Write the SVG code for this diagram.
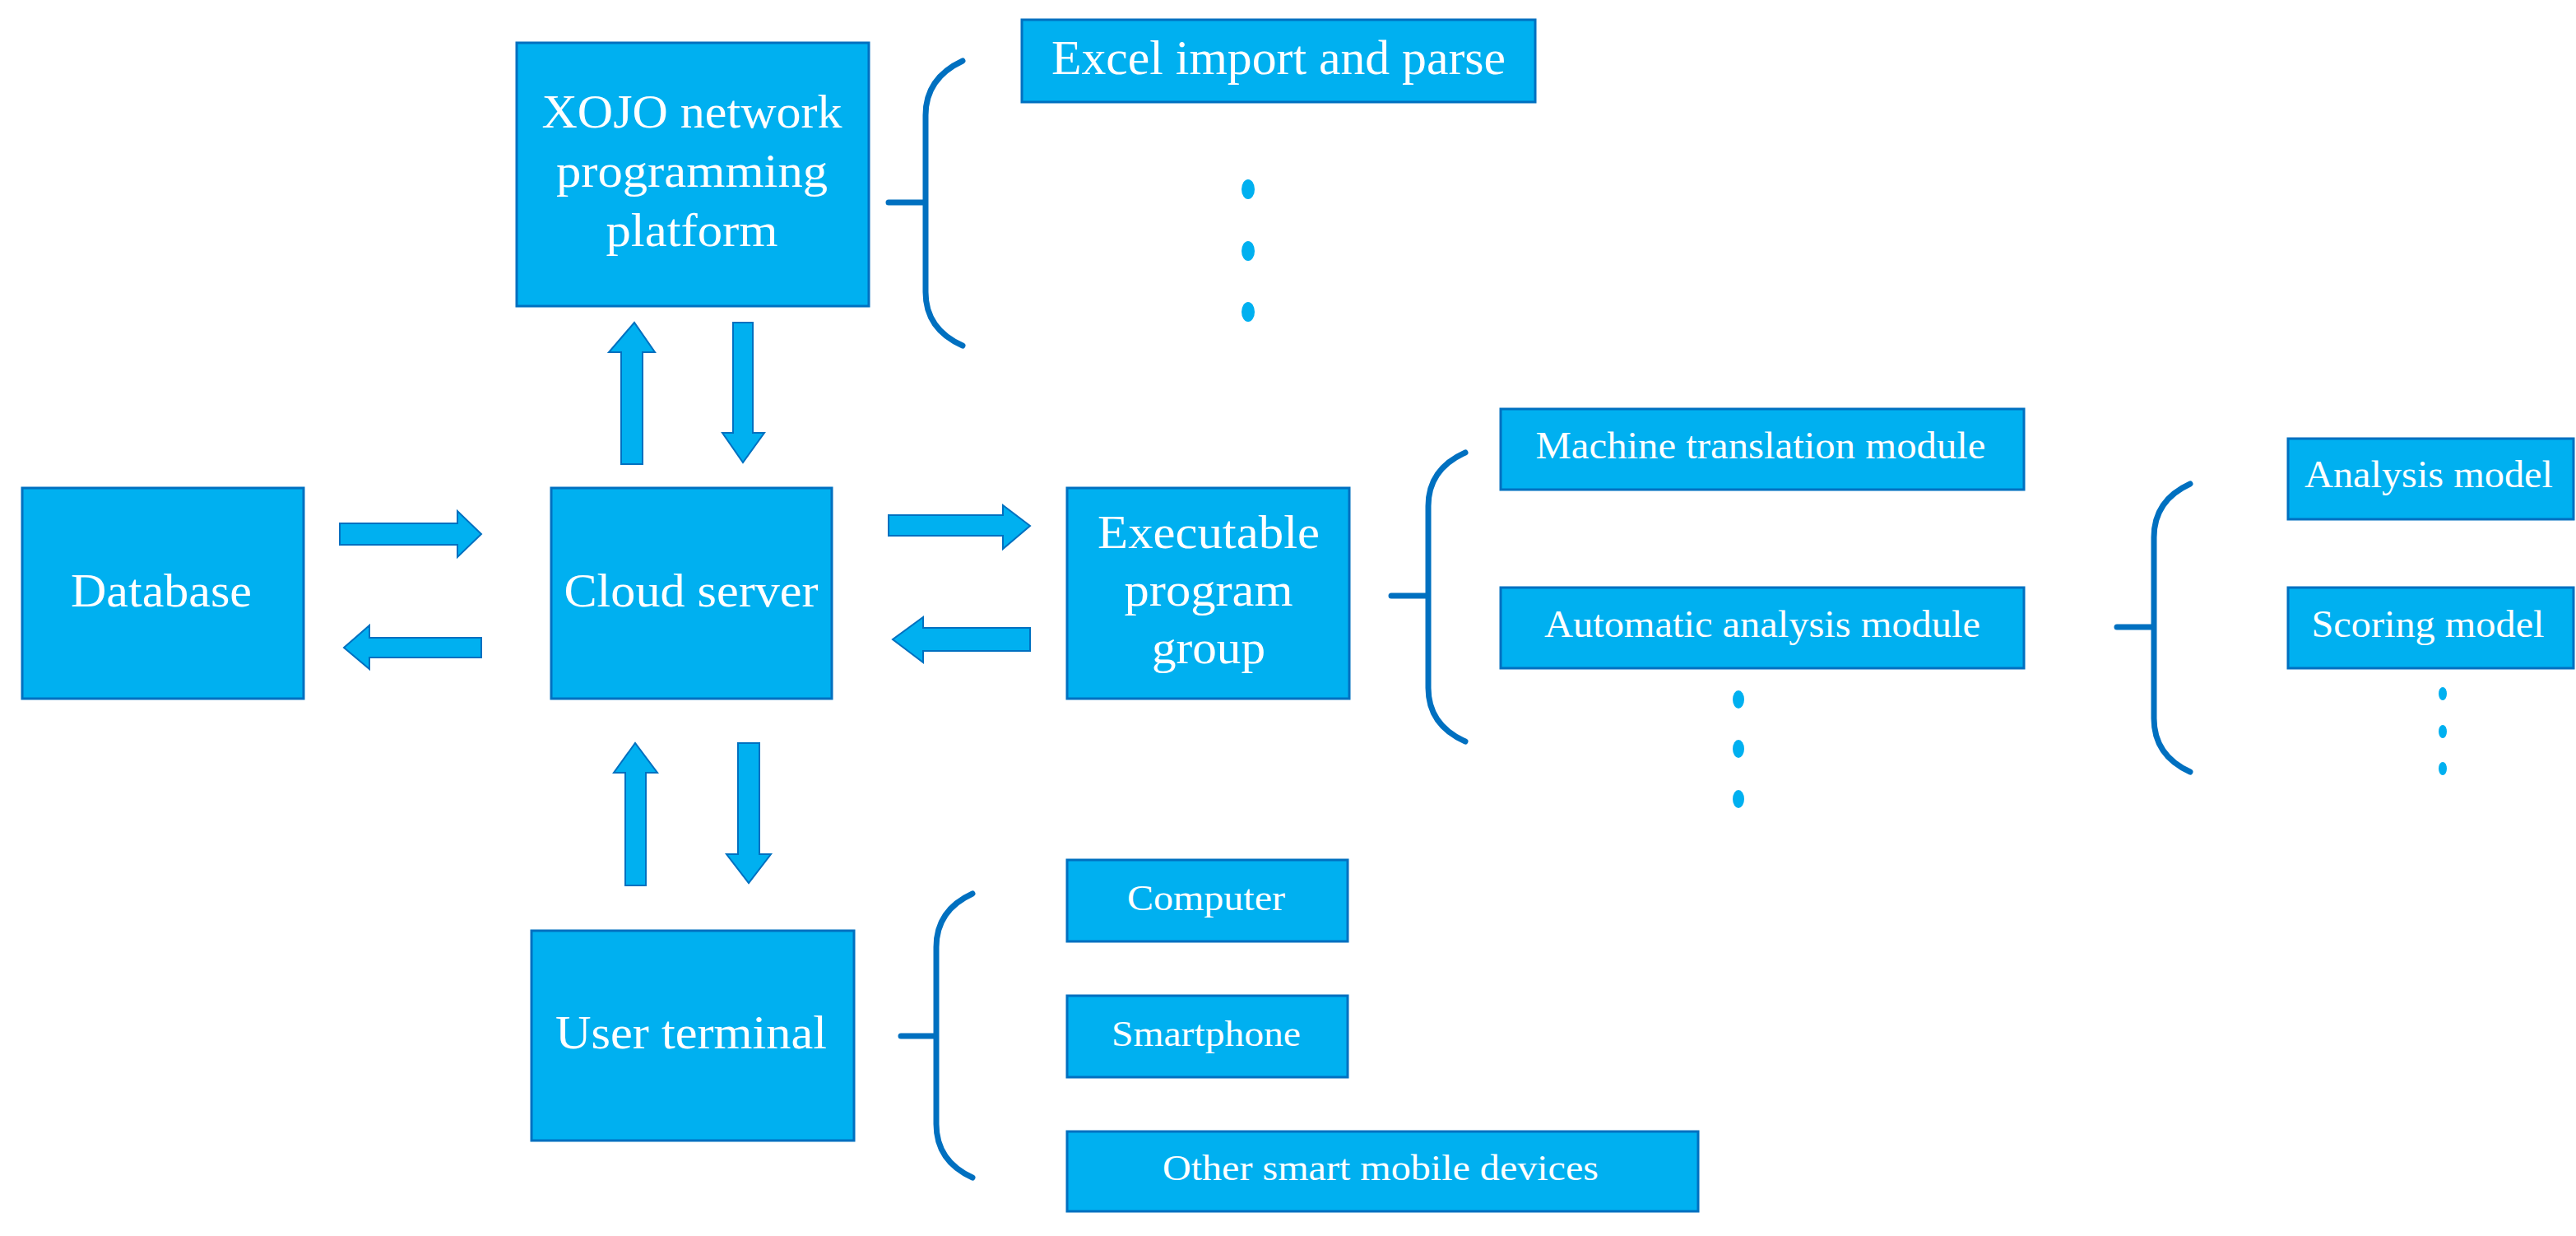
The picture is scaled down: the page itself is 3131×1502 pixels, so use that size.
<svg xmlns="http://www.w3.org/2000/svg" width="3131" height="1502" viewBox="0 0 3131 1502">
<style>
.b{fill:#00B0F0;stroke:#0070C0;stroke-width:3}
.t{fill:#fff;font-family:"Liberation Serif","Times New Roman",serif;text-anchor:middle}
.L{font-size:56px}.M{font-size:46px}.S{font-size:44px}
.br{fill:none;stroke:#0070C0;stroke-width:7;stroke-linecap:round}
.a{fill:#00B0F0;stroke:#0070C0;stroke-width:2}
.d{fill:#00B0F0}
</style>
<rect width="3131" height="1502" fill="#fff"/>
<g id="xojo"><rect class="b" x="628" y="52" width="428" height="320"/>
<text class="t L" x="841" y="155" textLength="365" lengthAdjust="spacingAndGlyphs">XOJO network</text>
<text class="t L" x="841" y="227" textLength="330" lengthAdjust="spacingAndGlyphs">programming</text>
<text class="t L" x="841" y="299" textLength="209" lengthAdjust="spacingAndGlyphs">platform</text></g>
<g id="excel"><rect class="b" x="1242" y="24" width="624" height="100"/>
<text class="t" font-size="60" x="1554" y="90" textLength="552" lengthAdjust="spacingAndGlyphs">Excel import and parse</text></g>
<g id="database"><rect class="b" x="27" y="593" width="342" height="256"/>
<text class="t L" x="196" y="737" textLength="220" lengthAdjust="spacingAndGlyphs">Database</text></g>
<g id="cloud"><rect class="b" x="670" y="593" width="341" height="256"/>
<text class="t L" x="840" y="737" textLength="309" lengthAdjust="spacingAndGlyphs">Cloud server</text></g>
<g id="exec"><rect class="b" x="1297" y="593" width="343" height="256"/>
<text class="t L" x="1469" y="666" textLength="270" lengthAdjust="spacingAndGlyphs">Executable</text>
<text class="t L" x="1469" y="736" textLength="205" lengthAdjust="spacingAndGlyphs">program</text>
<text class="t L" x="1469" y="806" textLength="138" lengthAdjust="spacingAndGlyphs">group</text></g>
<g id="mt"><rect class="b" x="1824" y="497" width="636" height="98"/>
<text class="t M" x="2140" y="557" textLength="547" lengthAdjust="spacingAndGlyphs">Machine translation module</text></g>
<g id="aa"><rect class="b" x="1824" y="714" width="636" height="98"/>
<text class="t M" x="2142" y="774" textLength="530" lengthAdjust="spacingAndGlyphs">Automatic analysis module</text></g>
<g id="am"><rect class="b" x="2781" y="533" width="347" height="98"/>
<text class="t M" x="2952" y="592" textLength="302" lengthAdjust="spacingAndGlyphs">Analysis model</text></g>
<g id="sm"><rect class="b" x="2781" y="714" width="347" height="98"/>
<text class="t M" x="2951" y="774" textLength="283" lengthAdjust="spacingAndGlyphs">Scoring model</text></g>
<g id="user"><rect class="b" x="646" y="1131" width="392" height="255"/>
<text class="t L" x="840" y="1274" textLength="330" lengthAdjust="spacingAndGlyphs">User terminal</text></g>
<g id="computer"><rect class="b" x="1297" y="1045" width="341" height="99"/>
<text class="t S" x="1466" y="1106" textLength="192" lengthAdjust="spacingAndGlyphs">Computer</text></g>
<g id="smartphone"><rect class="b" x="1297" y="1210" width="341" height="99"/>
<text class="t S" x="1466" y="1271" textLength="230" lengthAdjust="spacingAndGlyphs">Smartphone</text></g>
<g id="other"><rect class="b" x="1297" y="1375" width="767" height="97"/>
<text class="t S" x="1678" y="1434" textLength="530" lengthAdjust="spacingAndGlyphs">Other smart mobile devices</text></g>
<g id="connectors">
<path class="br" d="M1170,74 Q1125,95 1125,140 L1125,355 Q1125,400 1170,420 M1080,246 L1125,246"/>
<path class="br" d="M1781,550 Q1736,570 1736,615 L1736,836 Q1736,881 1781,901 M1691,724 L1736,724"/>
<path class="br" d="M2662,588 Q2618,608 2618,653 L2618,873 Q2618,918 2662,938 M2573,762 L2618,762"/>
<path class="br" d="M1182,1086 Q1138,1106 1138,1151 L1138,1366 Q1138,1411 1182,1431 M1095,1259 L1138,1259"/>
<path class="a" d="M755,564 L755,428 L740,428 L771,392 L796,428 L781,428 L781,564 Z"/>
<path class="a" d="M891,392 L915,392 L915,526 L929,526 L903,562 L878,526 L891,526 Z"/>
<path class="a" d="M413,636 L556,636 L556,621 L585,649 L556,677 L556,662 L413,662 Z"/>
<path class="a" d="M585,775 L449,775 L449,760 L418,787 L449,813 L449,799 L585,799 Z"/>
<path class="a" d="M1080,626 L1219,626 L1219,614 L1252,639 L1219,667 L1219,651 L1080,651 Z"/>
<path class="a" d="M1252,763 L1122,763 L1122,750 L1085,777 L1122,805 L1122,791 L1252,791 Z"/>
<path class="a" d="M760,1076 L760,939 L746,939 L772,903 L799,939 L785,939 L785,1076 Z"/>
<path class="a" d="M897,903 L923,903 L923,1038 L937,1038 L910,1073 L883,1038 L897,1038 Z"/>
<ellipse class="d" cx="1517" cy="230" rx="8" ry="12"/><ellipse class="d" cx="1517" cy="305" rx="8" ry="12"/><ellipse class="d" cx="1517" cy="379" rx="8" ry="12"/>
<ellipse class="d" cx="2113" cy="850" rx="7" ry="11"/><ellipse class="d" cx="2113" cy="910" rx="7" ry="11"/><ellipse class="d" cx="2113" cy="971" rx="7" ry="11"/>
<ellipse class="d" cx="2969" cy="843" rx="5" ry="8"/><ellipse class="d" cx="2969" cy="889" rx="5" ry="8"/><ellipse class="d" cx="2969" cy="934" rx="5" ry="8"/>
</g>
</svg>
